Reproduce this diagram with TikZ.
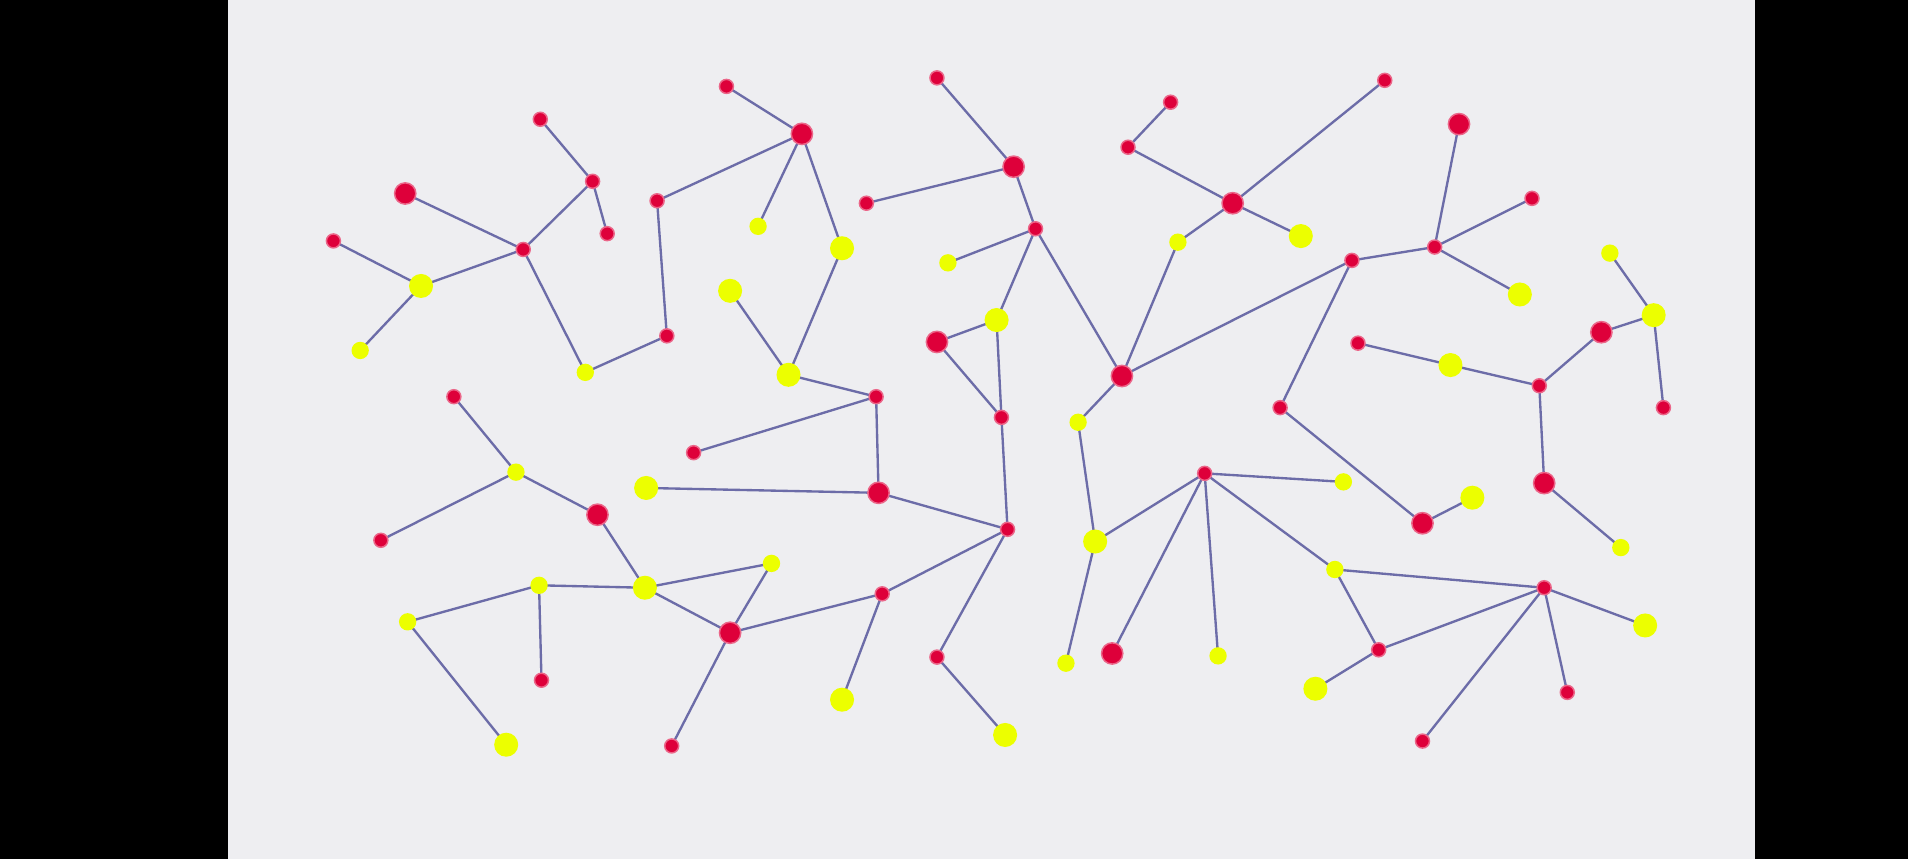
\documentclass[tikz,border=0pt]{standalone}
\usetikzlibrary{backgrounds}

\definecolor{dotred}{RGB}{222,0,58}
\definecolor{dotring}{RGB}{238,70,115}
\definecolor{dotyel}{RGB}{236,255,0}
\definecolor{edge}{RGB}{108,108,168}
\definecolor{paper}{RGB}{238,238,241}

\begin{document}
\begin{tikzpicture}[
  % one unit = one pixel of the 1568 x 706 frame, y downwards
  x=0.1mm, y=-0.1mm,
  dot/.style={circle, inner sep=0pt, draw=#1!60!white, line width=0.35pt, fill=#1},
  rb/.style={dot=dotred, minimum size=1.75mm},
  rs/.style={dot=dotred, minimum size=1.15mm},
  yb/.style={dot=dotyel, minimum size=1.85mm, draw=dotyel},
  ys/.style={dot=dotyel, minimum size=1.3mm, draw=dotyel},
  ln/.style={edge, line width=0.55pt},
]
% frame: black bars and the grey sheet
\begin{scope}[on background layer]
  \fill[black] (0,0) rectangle (1568,706);
  \fill[paper] (187,0) rectangle (1442,706);
\end{scope}
% top left
\node[rb] (a1) at (333,159) {};
\node[rs] (a2) at (274,198) {};
\node[yb] (a3) at (346,235) {};
\node[ys] (a4) at (296,288) {};
\node[rs] (a5) at (430,205) {};
\node[rs] (a6) at (444,98) {};
\node[rs] (a7) at (487,149) {};
\node[rs] (a8) at (499,192) {};
\node[ys] (a9) at (481,306) {};
\node[rs] (a10) at (548,276) {};
\node[rs] (a11) at (540,165) {};
\node[rb] (a12) at (659,110) {};
\node[rs] (a13) at (597,71) {};
\node[ys] (a14) at (623,186) {};
\node[yb] (a15) at (692,204) {};
\node[yb] (a16) at (600,239) {};
\node[yb] (a17) at (648,308) {};
\node[rs] (a18) at (720,326) {};
\node[rs] (a19) at (570,372) {};
% middle column
\node[rs] (b1) at (770,64) {};
\node[rb] (b2) at (833,137) {};
\node[rs] (b3) at (712,167) {};
\node[rs] (b4) at (851,188) {};
\node[ys] (b5) at (779,216) {};
\node[yb] (b6) at (819,263) {};
\node[rb] (b7) at (770,281) {};
\node[rs] (b8) at (823,343) {};
\node[rs] (b9) at (828,435) {};
\node[rb] (b10) at (722,405) {};
\node[yb] (b11) at (531,401) {};
% top right
\node[rb] (c1) at (922,309) {};
\node[ys] (c2) at (886,347) {};
\node[ys] (c3) at (968,199) {};
\node[rb] (c4) at (1013,167) {};
\node[rs] (c5) at (927,121) {};
\node[rs] (c6) at (962,84) {};
\node[yb] (c7) at (1069,194) {};
\node[rs] (c8) at (1138,66) {};
\node[rs] (c9) at (1111,214) {};
\node[rb] (d1) at (1199,102) {};
\node[rs] (d2) at (1179,203) {};
\node[rs] (d3) at (1259,163) {};
\node[yb] (d4) at (1249,242) {};
% far right
\node[ys] (e1) at (1323,208) {};
\node[yb] (e2) at (1359,259) {};
\node[rb] (e3) at (1316,273) {};
\node[rs] (e4) at (1367,335) {};
\node[rs] (e5) at (1265,317) {};
\node[yb] (e6) at (1192,300) {};
\node[rs] (e7) at (1116,282) {};
\node[rb] (e8) at (1269,397) {};
\node[ys] (e9) at (1332,450) {};
\node[rs] (f1) at (1052,335) {};
\node[rb] (f2) at (1169,430) {};
\node[yb] (f3) at (1210,409) {};
% bottom right
\node[rs] (g1) at (990,389) {};
\node[ys] (g2) at (1104,396) {};
\node[yb] (g3) at (900,445) {};
\node[ys] (g4) at (876,545) {};
\node[rb] (g5) at (914,537) {};
\node[ys] (g6) at (1001,539) {};
\node[ys] (g7) at (1097,468) {};
\node[rs] (h1) at (1269,483) {};
\node[rs] (h2) at (1133,534) {};
\node[yb] (h3) at (1081,566) {};
\node[yb] (h4) at (1352,514) {};
\node[rs] (h5) at (1288,569) {};
\node[rs] (h6) at (1169,609) {};
% bottom left
\node[rs] (i1) at (373,326) {};
\node[ys] (i2) at (424,388) {};
\node[rs] (i3) at (313,444) {};
\node[rb] (i4) at (491,423) {};
\node[yb] (i5) at (530,483) {};
\node[ys] (i6) at (443,481) {};
\node[ys] (i7) at (335,511) {};
\node[rs] (i8) at (445,559) {};
\node[yb] (i9) at (416,612) {};
\node[ys] (i10) at (634,463) {};
\node[rb] (i11) at (600,520) {};
\node[rs] (i12) at (552,613) {};
\node[rs] (i13) at (725,488) {};
\node[yb] (i14) at (692,575) {};
\node[rs] (i15) at (770,540) {};
\node[yb] (i16) at (826,604) {};
% edges, under the dots
\begin{scope}[on background layer]
\foreach \p/\q in {a2/a3, a4/a3, a3/a5, a1/a5, a5/a7, a6/a7, a7/a8, a5/a9, a9/a10, a10/a11,
    a11/a12, a13/a12, a12/a14, a12/a15, a15/a17, a16/a17, a17/a18, a18/a19, a18/b10,
    b1/b2, b3/b2, b2/b4, b4/b5, b4/b6, b4/c1, b6/b7, b7/b8, b6/b8, b8/b9, b10/b9, b11/b10,
    c1/c2, c1/c3, c3/c4, c4/c5, c5/c6, c4/c7, c4/c8, c1/c9,
    c9/d2, d1/d2, d2/d3, d2/d4,
    e1/e2, e2/e3, e2/e4, e3/e5, e5/e6, e6/e7, e5/e8, e8/e9,
    c9/f1, f1/f2, f2/f3,
    c2/g3, g3/g1, g3/g4, g1/g5, g1/g6, g1/g2, g1/g7,
    g7/h1, g7/h2, h2/h1, h2/h3, h1/h4, h1/h5, h1/h6,
    i1/i2, i3/i2, i2/i4, i4/i5, i6/i5, i7/i6, i6/i8, i7/i9, i5/i10, i5/i11, i10/i11,
    i11/i12, i11/i13, i13/b9, i13/i14, b9/i15, i15/i16}
  \draw[ln] (\p.center) -- (\q.center);
\end{scope}
\end{tikzpicture}
\end{document}
